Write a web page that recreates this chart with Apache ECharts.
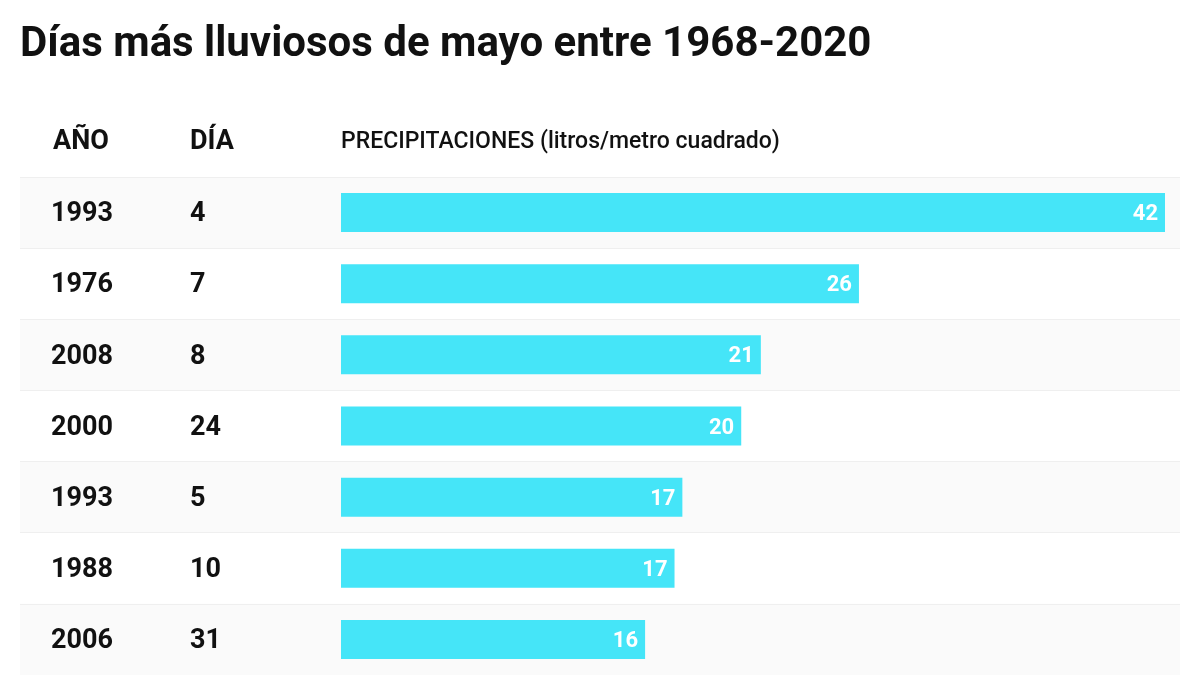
<!DOCTYPE html>
<html>
<head>
<meta charset="utf-8">
<script src="https://cdn.jsdelivr.net/npm/echarts@6/dist/echarts.min.js"></script>
<style>html,body{margin:0;padding:0;background:#fff;}#c{width:1200px;height:675px;}</style>
</head>
<body>
<div id="c"></div>
<script>
const years = ['1993','1976','2008','2000','1993','1988','2006'];
const days = ['4','7','8','24','5','10','31'];
const rain = [42, 26.4, 21.4, 20.4, 17.4, 17.0, 15.5];
const rowKeys = years.map((y, i) => i);

const FONT = 'Roboto';
const chart = echarts.init(document.getElementById('c'));
chart.setOption({
  backgroundColor: '#ffffff',
  animation: false,
  graphic: [
    { type: 'text', x: 20, y: 45, style: { text: 'Días más lluviosos de mayo entre 1968-2020', font: 'bold 42px Roboto', fill: '#111', verticalAlign: 'middle' } },
    { type: 'text', x: 53, y: 142, style: { text: 'AÑO', font: 'bold 27px Roboto', fill: '#111', verticalAlign: 'middle' } },
    { type: 'text', x: 190, y: 142, style: { text: 'DÍA', font: 'bold 27px Roboto', fill: '#111', verticalAlign: 'middle' } },
    { type: 'text', x: 341, y: 142, style: { text: 'PRECIPITACIONES (litros/metro cuadrado)', font: '500 23px Roboto', fill: '#111', verticalAlign: 'middle' } }
  ],
  grid: [
    { left: 20, right: 20, top: 177, height: 500 },
    { left: 341, right: 35, top: 177, height: 500 }
  ],
  xAxis: [
    { gridIndex: 0, type: 'value', min: 0, max: 1, show: false },
    { gridIndex: 1, type: 'value', min: 0, max: 42, show: false }
  ],
  yAxis: [
    {
      gridIndex: 0, type: 'category', inverse: true, data: rowKeys,
      axisLine: { show: false }, axisTick: { show: false },
      splitArea: { show: true, areaStyle: { color: ['#fafafa', '#ffffff'] } },
      splitLine: { show: true, lineStyle: { color: '#efefef', width: 1 } },
      axisLabel: {
        inside: true, margin: 31,
        formatter: (v) => '{y|' + years[v] + '}{d|' + days[v] + '}',
        rich: {
          y: { width: 139, fontFamily: FONT, fontWeight: 'bold', fontSize: 27, color: '#111', padding: [4, 0, 0, 0] },
          d: { fontFamily: FONT, fontWeight: 'bold', fontSize: 27, color: '#111', padding: [4, 0, 0, 0] }
        }
      },
      z: 1
    },
    {
      gridIndex: 1, type: 'category', inverse: true, data: rowKeys, show: false
    }
  ],
  series: [{
    type: 'bar', xAxisIndex: 1, yAxisIndex: 1, data: rain,
    barWidth: 39, itemStyle: { color: '#45e5f8' },
    label: {
      show: true, position: 'insideRight', distance: 7, offset: [0, 2],
      formatter: (p) => Math.round(p.value),
      color: '#ffffff', fontFamily: FONT, fontWeight: 'bold', fontSize: 22
    },
    z: 3
  }]
});
</script>
</body>
</html>
